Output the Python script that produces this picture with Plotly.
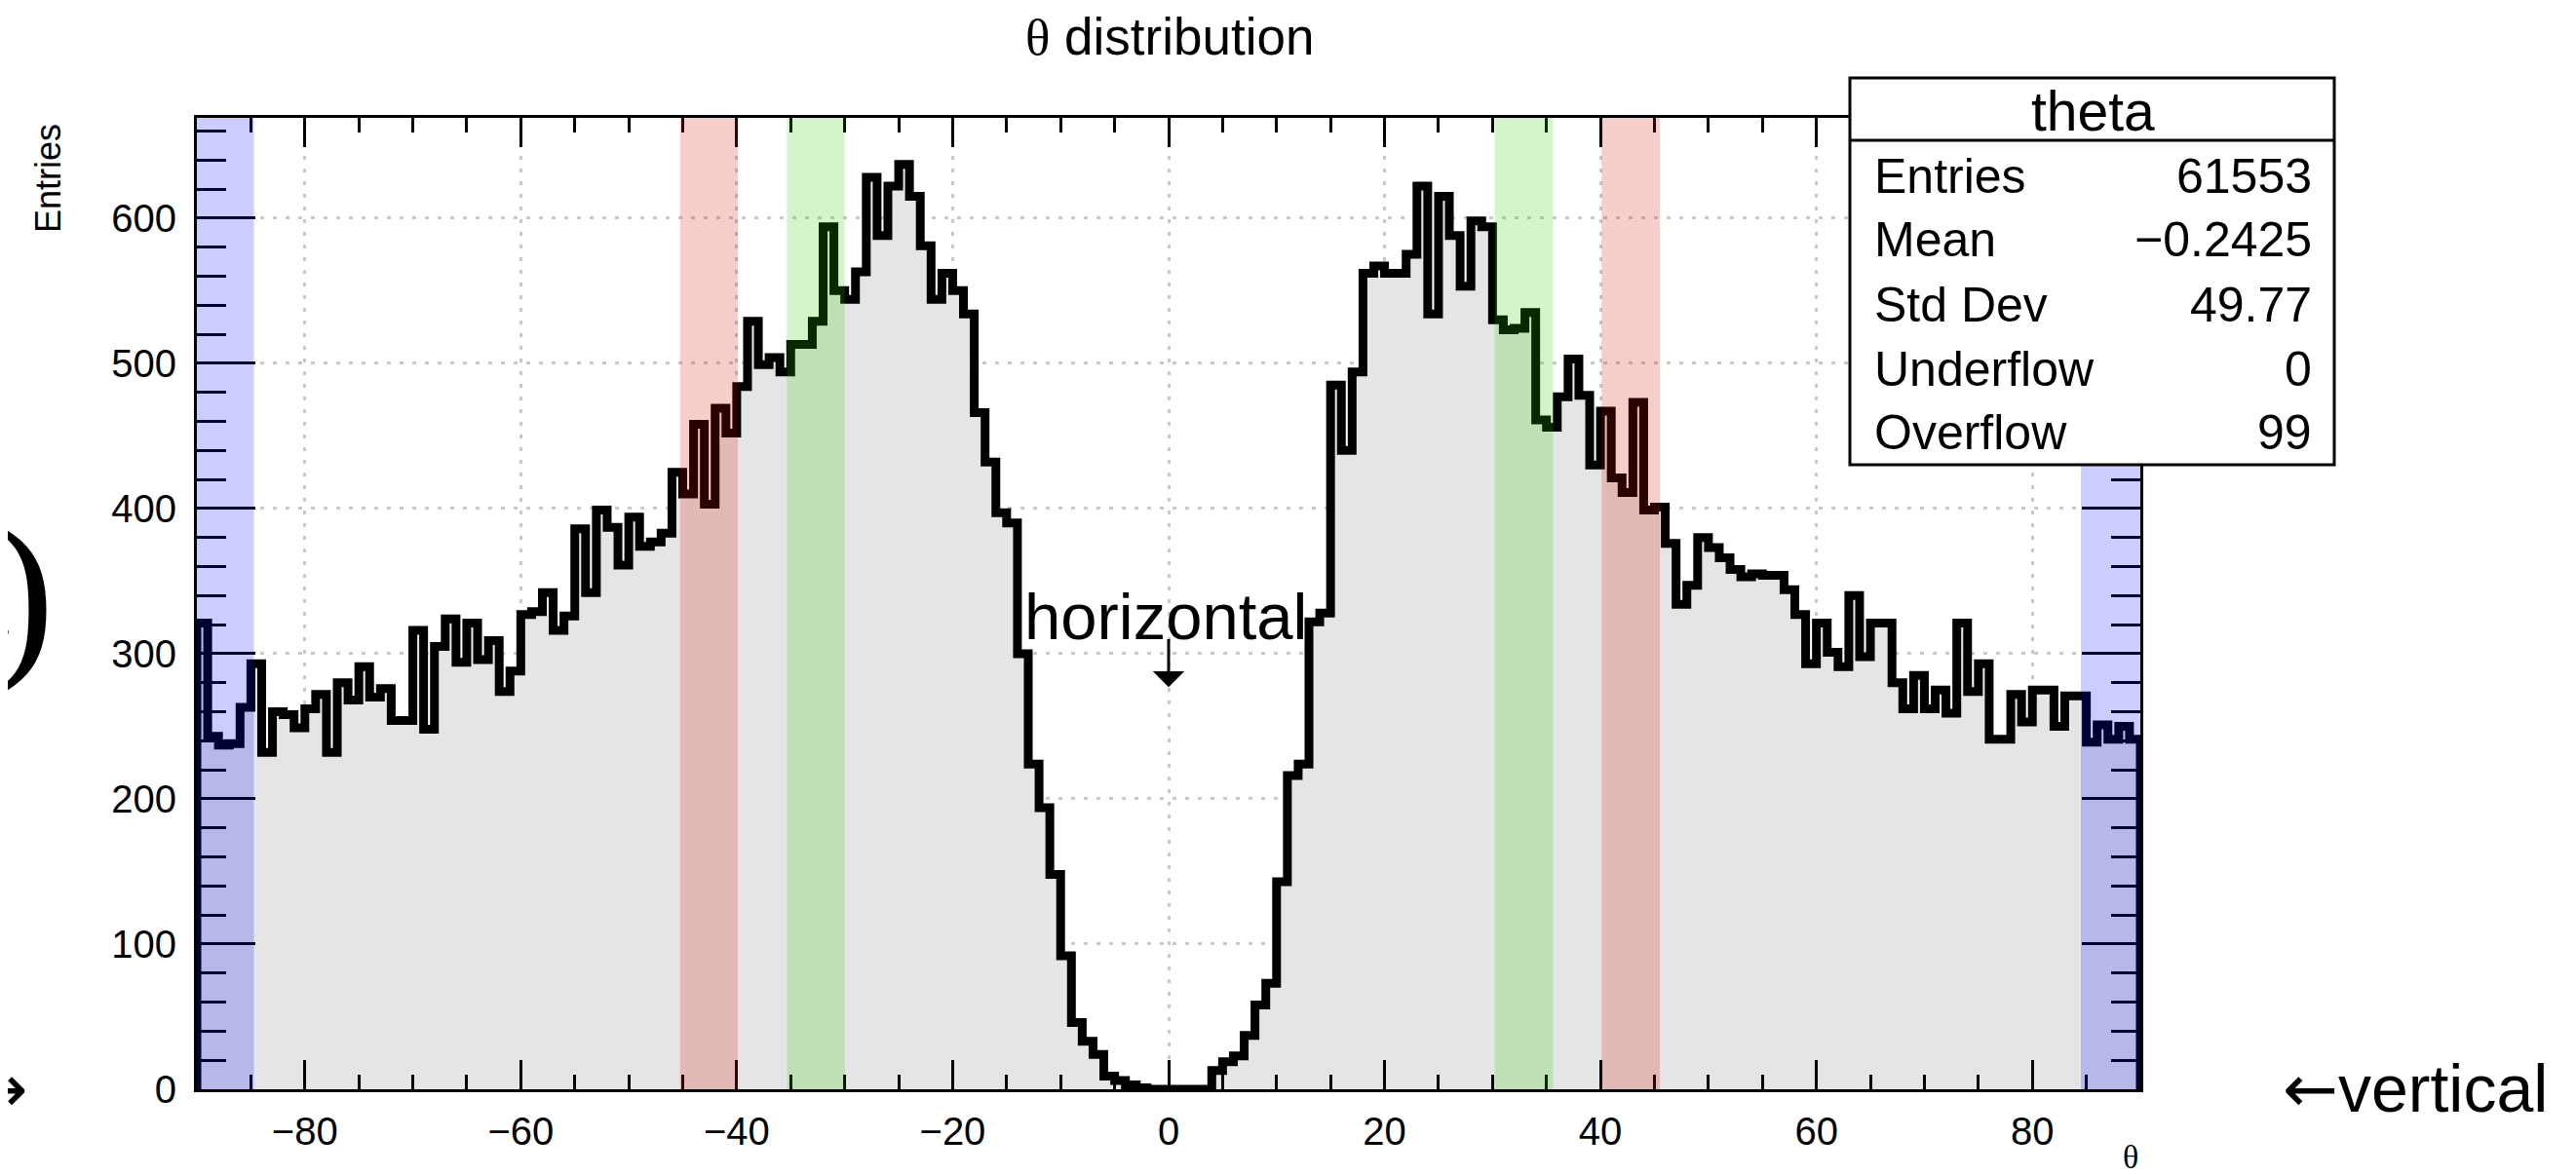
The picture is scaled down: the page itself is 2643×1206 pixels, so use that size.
import plotly.graph_objects as go

# ---------------- data ----------------
theta_lo = -90          # left edge of first bin
bin_width = 1
counts = [
    321, 243, 237, 238, 263, 293, 232, 260, 258, 249,   # -90 .. -81
    262, 272, 232, 280, 268, 291, 270, 276, 254, 254,   # -80 .. -71
    316, 248, 305, 324, 294, 321, 296, 309, 274, 288,   # -70 .. -61
    327, 329, 342, 316, 326, 386, 342, 399, 387, 361,   # -60 .. -51
    394, 374, 377, 383, 425, 410, 458, 403, 469, 452,   # -50 .. -41
    484, 529, 499, 504, 494, 513, 513, 529, 594, 550,   # -40 .. -31
    544, 563, 628, 588, 622, 637, 615, 581, 544, 562,   # -30 .. -21
    550, 534, 466, 432, 397, 390, 300, 224, 194, 148,   # -20 .. -11
    92, 46, 33, 24, 9, 6, 3, 1, 0, 0,                   # -10 .. -1
    0, 0, 0, 0, 13, 19, 23, 37, 58, 73,                 #   0 .. 9
    143, 216, 224, 322, 328, 485, 440, 494, 562, 567,   #  10 .. 19
    562, 562, 575, 622, 534, 615, 588, 553, 598, 594,   #  20 .. 29
    530, 523, 524, 535, 461, 456, 477, 503, 478, 430,   #  30 .. 39
    467, 421, 411, 473, 399, 401, 376, 334, 347, 380,   #  40 .. 49
    373, 366, 358, 353, 355, 354, 354, 344, 327, 293,   #  50 .. 59
    321, 301, 291, 340, 298, 321, 321, 280, 262, 285,   #  60 .. 69
    262, 275, 259, 321, 274, 293, 241, 241, 272, 253,   #  70 .. 79
    275, 275, 250, 271, 271, 239, 251, 241, 250, 241,   #  80 .. 89
]

band_lo = [-90.0, -45.25, -35.35, 30.2, 40.1, 84.5]
band_hi = [-84.72, -39.9, -30.0, 35.6, 45.5, 90.0]
band_color = ["rgba(0,0,255,0.2)", "rgba(220,10,0,0.2)", "rgba(40,200,0,0.2)",
              "rgba(40,200,0,0.2)", "rgba(220,10,0,0.2)", "rgba(0,0,255,0.2)"]

stats_title = "theta"
stats_labels = ["Entries", "Mean", "Std Dev", "Underflow", "Overflow"]
stats_values = ["61553", "\u22120.2425", "49.77", "0", "99"]

x_tick_step = 20
y_tick_step = 100
y_max = 669

# ---------------- layout helpers ----------------
PAGE_W, PAGE_H = 2643, 1206
BODY = 8                      # default body margin of the html page
W, H = PAGE_W - BODY, PAGE_H - BODY
PLOT_L, PLOT_R, PLOT_T, PLOT_B = 202, 2196, 121, 1118   # page pixels
L, T = PLOT_L - BODY, PLOT_T - BODY
R, B = W - (PLOT_R - BODY), H - (PLOT_B - BODY)
PW = PLOT_R - PLOT_L
PH = PLOT_B - PLOT_T


def px(x):
    return (x - PLOT_L) / PW


def py(y):
    return (PLOT_B - y) / PH


SANS = "Liberation Sans, Arial, Helvetica, sans-serif"
SERIF = "Liberation Serif, Times New Roman, serif"

x_edges = [theta_lo + i * bin_width for i in range(len(counts) + 1)]
xs = [x_edges[0]] + x_edges + [x_edges[-1]]
ys = [0] + counts + [counts[-1], 0]

fig = go.Figure()
fig.add_trace(go.Scatter(
    x=xs, y=ys, mode="lines",
    line=dict(color="black", width=9, shape="hv"),
    fill="tozeroy", fillcolor="#e5e5e5",
    hoverinfo="skip", showlegend=False,
))

shapes = []
for lo, hi, col in zip(band_lo, band_hi, band_color):
    shapes.append(dict(type="rect", xref="x", yref="paper", x0=lo, x1=hi, y0=0, y1=1,
                       fillcolor=col, line=dict(width=0), layer="above"))

# stats box
bx0, bx1, by0, by1 = 1898, 2395, 80, 477
shapes.append(dict(type="rect", xref="paper", yref="paper",
                   x0=px(bx0), x1=px(bx1), y0=py(by1), y1=py(by0),
                   fillcolor="white", line=dict(color="black", width=3), layer="above"))
shapes.append(dict(type="line", xref="paper", yref="paper",
                   x0=px(bx0), x1=px(bx1), y0=py(144), y1=py(144),
                   line=dict(color="black", width=3), layer="above"))

ann = []
ann.append(dict(text=stats_title, xref="paper", yref="paper", x=px(2147), y=py(114),
                xanchor="center", yanchor="middle", showarrow=False,
                font=dict(family=SANS, size=57, color="black")))
row_y = [181, 246, 313, 379, 444]
for lab, val, yy in zip(stats_labels, stats_values, row_y):
    ann.append(dict(text=lab, xref="paper", yref="paper", x=px(1921), y=py(yy),
                    xanchor="left", yanchor="middle", showarrow=False,
                    font=dict(family=SANS, size=50, color="black")))
    ann.append(dict(text=val, xref="paper", yref="paper", x=px(2374), y=py(yy),
                    xanchor="right", yanchor="middle", showarrow=False,
                    font=dict(family=SANS, size=50, color="black")))

# title
ann.append(dict(text="<span style='font-family:Liberation Serif'>\u03b8</span> distribution",
                xref="paper", yref="paper", x=px(1200), y=py(38),
                xanchor="center", yanchor="middle", showarrow=False,
                font=dict(family=SANS, size=53, color="black")))
# axis titles
ann.append(dict(text="\u03b8", xref="paper", yref="paper", x=px(2186), y=py(1187),
                xanchor="center", yanchor="middle", showarrow=False,
                font=dict(family=SERIF, size=34, color="black")))
ann.append(dict(text="Entries", xref="paper", yref="paper", x=px(50), y=py(183),
                xanchor="center", yanchor="middle", textangle=-90, showarrow=False,
                font=dict(family=SANS, size=36, color="black")))
# text labels
ann.append(dict(text="horizontal", xref="paper", yref="paper", x=px(1196), y=py(632),
                xanchor="center", yanchor="middle", showarrow=False,
                font=dict(family=SANS, size=67, color="black")))
ann.append(dict(text="", x=0, y=277, ax=0, ay=311, xref="x", yref="y", axref="x", ayref="y",
                showarrow=True, arrowhead=1, arrowwidth=3, arrowsize=1.8, arrowcolor="black"))
ann.append(dict(text="<span style='font-family:DejaVu Sans'>\u2190</span>vertical",
                xref="paper", yref="paper", x=px(2340), y=py(1117),
                xanchor="left", yanchor="middle", showarrow=False,
                font=dict(family=SANS, size=68, color="black")))
ann.append(dict(text="vertical<span style='font-family:DejaVu Sans'>\u2192</span>",
                xref="paper", yref="paper", x=px(30), y=py(1117),
                xanchor="right", yanchor="middle", showarrow=False,
                font=dict(family=SANS, size=68, color="black")))
ann.append(dict(text=")", xref="paper", yref="paper", x=px(58), y=py(608),
                xanchor="right", yanchor="middle", showarrow=False,
                font=dict(family=SERIF, size=192, color="black")))
ann.append(dict(text=".", xref="paper", yref="paper", x=px(15), y=py(630),
                xanchor="right", yanchor="middle", showarrow=False,
                font=dict(family=SERIF, size=64, color="black")))

axis_common = dict(
    ticks="inside", tickwidth=3, tickcolor="black",
    showline=True, linewidth=3, linecolor="black", mirror="ticks",
    showgrid=True, gridcolor="#c8c8c8", gridwidth=3, griddash="4px,9px",
    zeroline=False, tickfont=dict(family=SANS, size=40, color="black"),
)

fig.update_layout(
    width=W, height=H, autosize=False,
    margin=dict(l=L, r=R, t=T, b=B),
    paper_bgcolor="white", plot_bgcolor="white",
    shapes=shapes, annotations=ann, showlegend=False,
    xaxis=dict(range=[theta_lo, x_edges[-1]], tick0=0, dtick=x_tick_step, ticklen=30,
               ticklabelstandoff=6,
               minor=dict(dtick=5, ticks="inside", ticklen=15, tickwidth=3,
                          tickcolor="black", showgrid=False),
               **axis_common),
    yaxis=dict(range=[0, y_max], tick0=0, dtick=y_tick_step, ticklen=60,
               ticklabelstandoff=10,
               minor=dict(dtick=20, ticks="inside", ticklen=30, tickwidth=3,
                          tickcolor="black", showgrid=False),
               **axis_common),
)

fig.write_html("out.html")
